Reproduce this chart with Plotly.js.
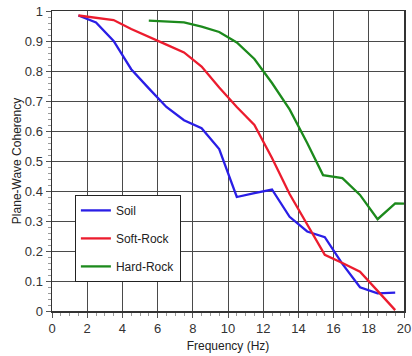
<!DOCTYPE html>
<html>
<head>
<meta charset="utf-8">
<script src="https://cdn.plot.ly/plotly-3.0.1.min.js"></script>
<style>html,body{margin:0;padding:0;background:#fff;}#chart{width:412px;height:356px;}</style>
</head>
<body>
<div id="chart"></div>
<script>
const soilFreq = [1.5, 2.5, 3.5, 4.5, 5.5, 6.5, 7.5, 8.5, 9.5, 10.5, 11.5, 12.5, 13.5, 14.5, 15.5, 16.5, 17.5, 18.5, 19.5];
const soilCoh  = [0.985, 0.962, 0.90, 0.806, 0.742, 0.68, 0.636, 0.609, 0.54, 0.38, 0.393, 0.405, 0.314, 0.265, 0.246, 0.157, 0.079, 0.059, 0.061];

const softFreq = [1.5, 2.5, 3.5, 4.5, 5.5, 6.5, 7.5, 8.5, 9.5, 10.5, 11.5, 12.5, 13.5, 14.5, 15.5, 16.5, 17.5, 18.5, 19.5];
const softCoh  = [0.985, 0.978, 0.97, 0.94, 0.913, 0.888, 0.862, 0.815, 0.745, 0.68, 0.62, 0.51, 0.39, 0.29, 0.187, 0.16, 0.131, 0.067, 0.003];

const hardFreq = [5.5, 6.5, 7.5, 8.5, 9.5, 10.5, 11.5, 12.5, 13.5, 14.5, 15.4, 16.5, 17.5, 18.5, 19.5, 20];
const hardCoh  = [0.968, 0.966, 0.962, 0.948, 0.93, 0.895, 0.84, 0.76, 0.672, 0.56, 0.453, 0.443, 0.387, 0.306, 0.359, 0.358];

const seriesNames = ['Soil', 'Soft-Rock', 'Hard-Rock'];
const xTickVals = [0, 2, 4, 6, 8, 10, 12, 14, 16, 18, 20];
const yTickVals = [0, 0.1, 0.2, 0.3, 0.4, 0.5, 0.6, 0.7, 0.8, 0.9, 1];
const yTickText = ['0', '0.1', '0.2', '0.3', '0.4', '0.5', '0.6', '0.7', '0.8', '0.9', '1'];

const colors = ['#2a1ee6', '#ec1c2e', '#1c8a1c'];

const traces = [
  {x: soilFreq, y: soilCoh, name: seriesNames[0], legendgroup: 'a'},
  {x: softFreq, y: softCoh, name: seriesNames[1], legendgroup: 'b'},
  {x: hardFreq, y: hardCoh, name: seriesNames[2], legendgroup: 'c'}
].map((t, i) => Object.assign(t, {type: 'scatter', mode: 'lines', line: {color: colors[i], width: 2.3}}));

const axisFont = {family: 'Liberation Sans, Arial, sans-serif', size: 13, color: '#333'};

const layout = {
  width: 412, height: 356,
  margin: {l: 52, r: 8, t: 11, b: 45},
  paper_bgcolor: '#fff', plot_bgcolor: '#fff',
  showlegend: true,
  legend: {
    x: 0.065, y: 0.387, xanchor: 'left', yanchor: 'top',
    bgcolor: '#fff', bordercolor: '#222', borderwidth: 1,
    font: {family: 'Liberation Sans, Arial, sans-serif', size: 12, color: '#222'},
    traceorder: 'grouped', tracegroupgap: 9, itemwidth: 30
  },
  xaxis: {
    range: [0, 20], tickvals: xTickVals, ticktext: xTickVals.map(String),
    showgrid: true, gridcolor: '#4a4a4a', gridwidth: 1,
    showline: true, linecolor: '#333', linewidth: 1.5, mirror: true,
    ticks: 'outside', ticklen: 5, tickcolor: '#555',
    minor: {dtick: 0.5, ticks: 'outside', ticklen: 3, tickcolor: '#999', showgrid: false},
    tickfont: axisFont, zeroline: false, automargin: false,
    title: {text: 'Frequency (Hz)', font: {family: 'Liberation Sans, Arial, sans-serif', size: 12, color: '#222'}, standoff: 6}
  },
  yaxis: {
    range: [0, 1], tickvals: yTickVals, ticktext: yTickText,
    showgrid: true, gridcolor: '#4a4a4a', gridwidth: 1,
    showline: true, linecolor: '#333', linewidth: 1.5, mirror: true,
    ticks: 'outside', ticklen: 5, tickcolor: '#555',
    minor: {dtick: 0.02, ticks: 'outside', ticklen: 3, tickcolor: '#999', showgrid: false},
    tickfont: axisFont, zeroline: false, automargin: false,
    title: {text: 'Plane-Wave Coherency', font: {family: 'Liberation Sans, Arial, sans-serif', size: 12, color: '#222'}, standoff: 0}
  }
};

Plotly.newPlot('chart', traces, layout, {staticPlot: true, displayModeBar: false});
</script>
</body>
</html>
